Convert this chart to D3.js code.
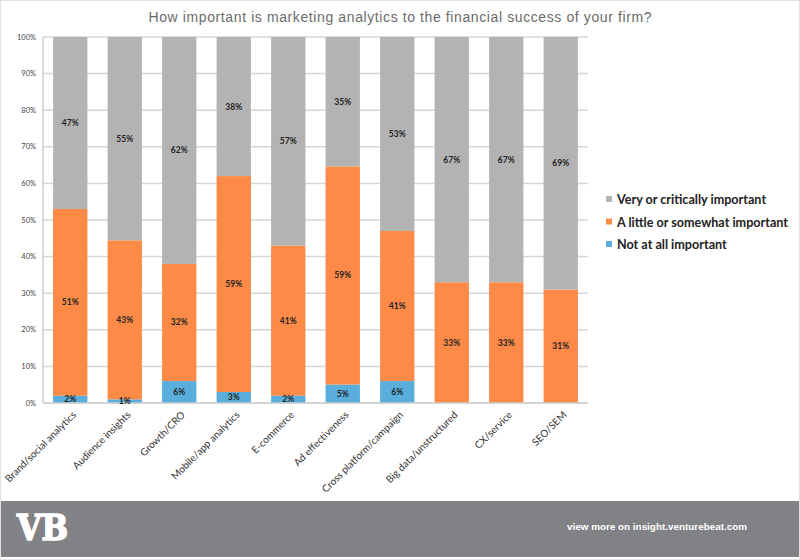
<!DOCTYPE html>
<html><head><meta charset="utf-8">
<script src="https://cdn.jsdelivr.net/npm/d3@7"></script>
<style>
html,body{margin:0;padding:0;background:#fff;}
svg{display:block;}
</style></head>
<body>
<svg id="chart" width="800" height="560"></svg>
<script>
const categories = ["Brand/social analytics","Audience insights","Growth/CRO","Mobile/app analytics","E-commerce","Ad effectiveness","Cross platform/campaign","Big data/unstructured","CX/service","SEO/SEM"];
const notAtAll = [2,1,6,3,2,5,6,0,0,0];
const aLittle = [51,43,32,59,41,59,41,33,33,31];
const veryCritical = [47,55,62,38,57,35,53,67,67,69];
const seriesNames = ["Not at all important","A little or somewhat important","Very or critically important"];
const seriesColors = ["#5aaedc","#fd8b47","#b3b3b3"];
const yTicks = [0,0.1,0.2,0.3,0.4,0.5,0.6,0.7,0.8,0.9,1];
const title = "How important is marketing analytics to the financial success of your firm?";

const svg = d3.select("#chart");
const W = 800, H = 560;
const m = {left:43, right:212, top:37, bottom:157};

svg.append("rect").attr("x",0.5).attr("y",0.5).attr("width",W-1).attr("height",H-1)
  .attr("fill","#fff").attr("stroke","#e2e2e2");

const rows = categories.map((c,i)=>({cat:c, s0:notAtAll[i], s1:aLittle[i], s2:veryCritical[i]}));
const stack = d3.stack().keys(["s0","s1","s2"]).offset(d3.stackOffsetExpand);
const stacked = stack(rows);

const x = d3.scaleBand().domain(categories).range([m.left, W-m.right]).paddingInner(0.37).paddingOuter(0.185);
const y = d3.scaleLinear().domain([0,1]).range([H-m.bottom, m.top]);

// gridlines
svg.append("g").selectAll("line").data(yTicks).join("line")
  .attr("x1",m.left).attr("x2",W-m.right)
  .attr("y1",d=>y(d)).attr("y2",d=>y(d))
  .attr("stroke","#d6d6d6").attr("stroke-width",1.5);
// y axis line
svg.append("line").attr("x1",m.left).attr("x2",m.left).attr("y1",y(1)).attr("y2",y(0))
  .attr("stroke","#cfcfcf").attr("stroke-width",1.5);

// y labels
svg.append("g").selectAll("text").data(yTicks).join("text")
  .attr("x",36).attr("y",d=>y(d)).attr("dy","0.35em")
  .attr("text-anchor","end").attr("font-family","Lato, 'Open Sans', sans-serif")
  .attr("font-size",7.5).attr("fill","#444")
  .text(d=>d3.format(".0%")(d));

// bars
const groups = svg.append("g").selectAll("g").data(stacked).join("g")
  .attr("fill",(d,i)=>seriesColors[i]);
groups.selectAll("rect").data(d=>d).join("rect")
  .attr("x",d=>x(d.data.cat)).attr("width",x.bandwidth())
  .attr("y",d=>y(d[1])).attr("height",d=>Math.max(0,y(d[0])-y(d[1])));

// bottom axis line
svg.append("line").attr("x1",m.left).attr("x2",W-m.right).attr("y1",y(0)).attr("y2",y(0))
  .attr("stroke","#cfcfcf").attr("stroke-width",1.5);

// value labels
const labels = svg.append("g");
stacked.forEach((ser,si)=>{
  const key = ser.key;
  labels.selectAll(null).data(ser.filter(d=>d.data[key]>0)).join("text")
    .attr("x",d=>x(d.data.cat)+x.bandwidth()/2)
    .attr("y",d=>(y(d[0])+y(d[1]))/2).attr("dy","0.35em")
    .attr("text-anchor","middle")
    .attr("font-family","Lato, 'Open Sans', sans-serif").attr("font-weight","bold")
    .attr("font-size",8.5).attr("fill","#222")
    .text(d=>d.data[key]+"%");
});

// x labels
svg.append("g").selectAll("text").data(categories).join("text")
  .attr("transform",d=>`translate(${x(d)+x.bandwidth()/2+4},${y(0)+10}) rotate(-45)`)
  .attr("text-anchor","end").attr("dy","0.35em")
  .attr("font-family","Lato, 'Open Sans', sans-serif")
  .attr("font-size",10).attr("fill","#333")
  .text(d=>d);

// title
svg.append("text").attr("x",400).attr("y",22).attr("text-anchor","middle")
  .attr("font-family","'Liberation Sans', Arial, sans-serif").attr("font-size",14)
  .attr("fill","#6b6b6b").attr("textLength",503).attr("lengthAdjust","spacing")
  .text(title);

// legend
const legendOrder = [2,1,0];
const lg = svg.append("g").selectAll("g").data(legendOrder).join("g")
  .attr("transform",(d,i)=>`translate(606,${200+i*22.5})`);
lg.append("rect").attr("x",0).attr("y",-4).attr("width",6).attr("height",6).attr("fill",d=>seriesColors[d]);
lg.append("text").attr("x",11).attr("y",0).attr("dy","0.35em")
  .attr("font-family","Lato, 'Open Sans', sans-serif").attr("font-weight","bold")
  .attr("font-size",12.6).attr("fill","#222")
  .text(d=>seriesNames[d]);

// footer
svg.append("rect").attr("x",1).attr("y",501).attr("width",W-2).attr("height",56).attr("fill","#818286");
svg.append("text").attr("x",17).attr("y",540)
  .attr("font-family","'DejaVu Serif', 'Liberation Serif', serif").attr("font-weight","bold")
  .attr("font-size",35).attr("fill","#fff").attr("stroke","#fff").attr("stroke-width",1.6)
  .attr("textLength",51).attr("lengthAdjust","spacingAndGlyphs")
  .text("VB");
svg.append("text").attr("x",567).attr("y",530)
  .attr("font-family","'Liberation Sans', Arial, sans-serif").attr("font-weight","bold")
  .attr("font-size",9.5).attr("fill","#fff").attr("textLength",180).attr("lengthAdjust","spacingAndGlyphs")
  .text("view more on insight.venturebeat.com");
</script>
</body></html>
